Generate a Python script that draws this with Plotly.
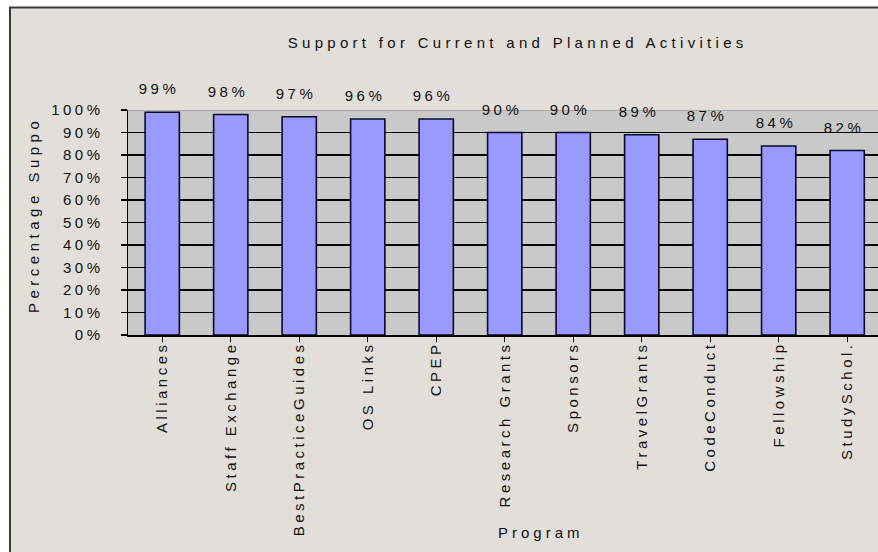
import json
import plotly.graph_objects as go

# ---- data -------------------------------------------------------------
programs = ["Alliances", "Staff Exchange", "BestPracticeGuides", "OS Links", "CPEP",
            "Research Grants", "Sponsors", "TravelGrants", "CodeConduct",
            "Fellowship", "StudySchol."]
support_pct = [99, 98, 97, 96, 96, 90, 90, 89, 87, 84, 82]
y_ticks = list(range(0, 101, 10))
y_tick_labels = [f"{v}%" for v in y_ticks]

TITLE = "Support for Current and Planned Activities"
X_TITLE = "Program"
Y_TITLE = "Percentage Suppo"

# ---- geometry (pixels on a 878 x 552 page) -----------------------------
W, H = 878, 552
PLOT_L, PLOT_R, PLOT_T, PLOT_B = 128, 878, 110, 335


def fx(x):
    return x / W


def fy(y):
    return 1 - y / H


FONT = "Liberation Sans, Arial, sans-serif"
TXT = "#111111"
PAPER = "#E2DED9"
PLOT_BG = "#C9C9C9"
BAR = "#9999FF"
FS = 15

fig = go.Figure()
fig.add_trace(go.Bar(
    x=list(range(len(programs))),
    y=support_pct,
    width=0.5,
    marker=dict(color=BAR, line=dict(color="#0A0A28", width=1.6)),
    hoverinfo="skip",
))

# value labels above each bar
for i, v in enumerate(support_pct):
    fig.add_annotation(x=i, y=v, xref="x", yref="y", text=f"{v}%",
                       showarrow=False, yanchor="bottom", yshift=13, xshift=-3,
                       font=dict(family=FONT, size=FS, color=TXT))

# chart title, axis titles
fig.add_annotation(x=fx(517), y=fy(42), xref="paper", yref="paper", text=TITLE,
                   showarrow=False, xanchor="center", yanchor="middle",
                   font=dict(family=FONT, size=FS, color=TXT))
fig.add_annotation(x=fx(541), y=fy(532), xref="paper", yref="paper", text=X_TITLE,
                   showarrow=False, xanchor="center", yanchor="middle",
                   font=dict(family=FONT, size=FS, color=TXT))
fig.add_annotation(x=fx(33), y=fy(215), xref="paper", yref="paper", text=Y_TITLE,
                   textangle=-90, showarrow=False, xanchor="center", yanchor="middle",
                   font=dict(family=FONT, size=FS, color=TXT))

shapes = [
    # white page margin on the top and left of the chart frame
    dict(type="rect", xref="paper", yref="paper", x0=0, x1=1, y0=fy(7), y1=1,
         fillcolor="white", line=dict(width=0), layer="below"),
    dict(type="rect", xref="paper", yref="paper", x0=0, x1=fx(10), y0=0, y1=1,
         fillcolor="white", line=dict(width=0), layer="below"),
    # frame edges
    dict(type="line", xref="paper", yref="paper", x0=fx(9), x1=1, y0=fy(7.5), y1=fy(7.5),
         line=dict(color="#3A3A3A", width=2)),
    dict(type="line", xref="paper", yref="paper", x0=fx(10), x1=fx(10), y0=0, y1=fy(7),
         line=dict(color="#3A3A3A", width=2)),
    # light top edge of the plot area
    dict(type="line", xref="paper", yref="y", x0=fx(PLOT_L), x1=1, y0=100, y1=100,
         line=dict(color="#8A8A8A", width=1)),
]

fig.update_layout(
    template="none",
    width=W, height=H,
    margin=dict(l=0, r=0, t=0, b=0, pad=0),
    paper_bgcolor=PAPER,
    plot_bgcolor=PLOT_BG,
    showlegend=False,
    shapes=shapes,
    xaxis=dict(
        domain=[fx(PLOT_L), fx(PLOT_R)],
        range=[-0.5, 10.45],
        automargin=False,
        tickmode="array",
        tickvals=list(range(len(programs))),
        ticktext=programs,
        tickangle=-90,
        tickson="boundaries",
        ticks="outside", ticklen=5, tickwidth=1, tickcolor="#000000",
        showline=True, linecolor="#000000", linewidth=1.5,
        showgrid=False, zeroline=False,
        tickfont=dict(family=FONT, size=FS, color=TXT),
        ticklabelstandoff=-6,
        fixedrange=True,
    ),
    yaxis=dict(
        domain=[fy(PLOT_B), fy(PLOT_T)],
        range=[0, 100],
        automargin=False,
        tickmode="array",
        tickvals=y_ticks,
        ticktext=y_tick_labels,
        ticks="outside", ticklen=6, tickwidth=1.5, tickcolor="#000000",
        showline=True, linecolor="#000000", linewidth=1.5,
        showgrid=True, gridcolor="#000000", gridwidth=1.5,
        zeroline=False,
        tickfont=dict(family=FONT, size=FS, color=TXT),
        ticklabelstandoff=14,
        fixedrange=True,
    ),
)

# Excel-style wide letter tracking on the text
spacing = {TITLE: "4.3px", Y_TITLE: "4.5px", X_TITLE: "4px"}
post = """
var gd = document.getElementById('{plot_id}');
var special = %s;
gd.querySelectorAll('svg text').forEach(function (t) {
  var s = special[t.textContent];
  t.style.letterSpacing = s ? s : '3.5px';
});
""" % json.dumps(spacing)

fig.write_html("out.html", post_script=post, config={"staticPlot": True})
